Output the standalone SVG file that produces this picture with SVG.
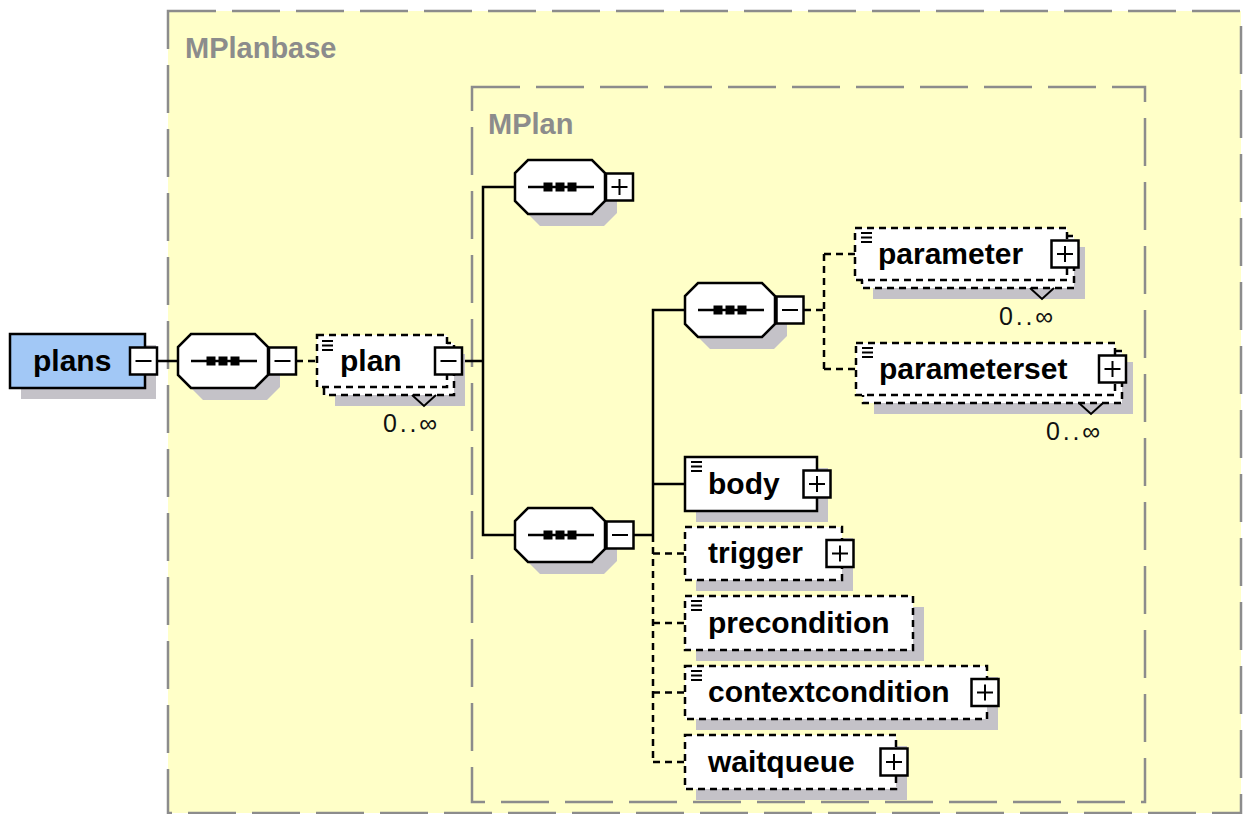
<svg xmlns="http://www.w3.org/2000/svg" xmlns:xlink="http://www.w3.org/1999/xlink" width="1243" height="814" viewBox="0 0 1243 814">
<style>
.conn{stroke:#000;stroke-width:2.5;fill:none}
.dsh{stroke-dasharray:7 5}
.el{fill:#fff;stroke:#000;stroke-width:2.5}
.sh{fill:#C4C2C8}
.lbl{font-family:"Liberation Sans",Arial,sans-serif;font-weight:bold;font-size:30px;fill:#000}
.card{font-family:"Liberation Sans",Arial,sans-serif;font-size:25px;fill:#111}
.grp{font-family:"Liberation Sans",Arial,sans-serif;font-weight:bold;font-size:29px;fill:#8C8C8C}
.frame{fill:#FFFFC8;stroke:#8C8C8C;stroke-width:2.5;stroke-dasharray:48 16}
.frame2{fill:none;stroke:#8C8C8C;stroke-width:2.5;stroke-dasharray:48 16}
.v{fill:none;stroke:#000;stroke-width:2}
</style>
<defs>
<g id="minus"><rect x="-13.5" y="-13.5" width="27" height="27" fill="#fff" stroke="#000" stroke-width="2.5"/><line x1="-8" y1="0" x2="8" y2="0" stroke="#000" stroke-width="2"/></g>
<g id="plus"><rect x="-13.5" y="-13.5" width="27" height="27" fill="#fff" stroke="#000" stroke-width="2.5"/><line x1="-8" y1="0" x2="8" y2="0" stroke="#000" stroke-width="2"/><line x1="0" y1="-8" x2="0" y2="8" stroke="#000" stroke-width="2"/></g>
<g id="seq">
<polygon class="sh" points="-20,-15 20,-15 57,-2 57,26 44,39 -20,39 -33,26 -33,-2"/>
<polygon class="el" points="-32,-27 32,-27 45,-14 45,14 32,27 -32,27 -45,14 -45,-14"/>
<line x1="-32" y1="0" x2="34" y2="0" stroke="#000" stroke-width="2.5"/>
<rect x="-16.5" y="-4.5" width="9" height="9" fill="#000"/>
<rect x="-4.5" y="-4.5" width="9" height="9" fill="#000"/>
<rect x="7.5" y="-4.5" width="9" height="9" fill="#000"/>
</g>
<g id="doc" stroke="#000" stroke-width="2"><line x1="0" y1="0" x2="11" y2="0"/><line x1="0" y1="4.5" x2="11" y2="4.5"/><line x1="0" y1="9" x2="11" y2="9"/></g>
</defs>
<rect x="0" y="0" width="1243" height="814" fill="#fff"/>
<g id="MPlanbase">
<rect class="frame" x="168" y="11" width="1073" height="802"/>
<text class="grp" x="185" y="58">MPlanbase</text>
</g>
<g id="MPlan">
<rect class="frame2" x="472" y="87" width="673" height="715"/>
<text class="grp" x="488" y="134">MPlan</text>
</g>
<g id="connectors">
<line class="conn" x1="157" y1="361" x2="178" y2="361"/>
<line class="conn dsh" x1="296" y1="361" x2="317" y2="361"/>
<line class="conn" x1="462" y1="361" x2="483" y2="361"/>
<polyline class="conn" points="515,187 483,187 483,535 515,535"/>
<line class="conn" x1="633" y1="535" x2="653" y2="535"/>
<polyline class="conn" points="685,310 653,310 653,535"/>
<line class="conn" x1="653" y1="484" x2="685" y2="484"/>
<line class="conn dsh" x1="653" y1="535" x2="653" y2="762"/>
<line class="conn dsh" x1="653" y1="553.5" x2="685" y2="553.5"/>
<line class="conn dsh" x1="653" y1="623" x2="685" y2="623"/>
<line class="conn dsh" x1="653" y1="692.5" x2="685" y2="692.5"/>
<line class="conn dsh" x1="653" y1="762" x2="685" y2="762"/>
<line class="conn dsh" x1="804" y1="310" x2="824" y2="310"/>
<line class="conn dsh" x1="824" y1="254" x2="824" y2="369"/>
<line class="conn dsh" x1="824" y1="254" x2="855" y2="254"/>
<line class="conn dsh" x1="824" y1="369" x2="856" y2="369"/>
</g>
<g id="plans">
<rect class="sh" x="21" y="345" width="135" height="54"/>
<rect x="10" y="334" width="135" height="54" fill="#A2C8F6" stroke="#000" stroke-width="2.5"/>
<text class="lbl" x="33" y="371">plans</text>
<use xlink:href="#minus" x="143.5" y="361"/>
</g>
<g id="seq1"><use xlink:href="#seq" x="223" y="361"/><use xlink:href="#minus" x="282.5" y="361"/></g>
<g id="plan">
<rect class="sh" x="335" y="354" width="130" height="52"/>
<rect class="el dsh" x="324" y="343" width="130" height="52"/>
<rect class="el dsh" x="317" y="335" width="130" height="52"/>
<use xlink:href="#doc" x="322" y="341"/>
<text class="lbl" x="340" y="371">plan</text>
<use xlink:href="#minus" x="448.5" y="361"/>
<polyline class="v" points="412,395 424,406 436,395"/>
<text class="card" x="437" y="432" text-anchor="end" textLength="54" lengthAdjust="spacing">0..∞</text>
</g>
<g id="seq2"><use xlink:href="#seq" x="560" y="187"/><use xlink:href="#plus" x="619.5" y="187"/></g>
<g id="seq3"><use xlink:href="#seq" x="560" y="535"/><use xlink:href="#minus" x="620" y="535"/></g>
<g id="seq4"><use xlink:href="#seq" x="730" y="310"/><use xlink:href="#minus" x="790" y="310"/></g>
<g id="parameter">
<rect class="sh" x="873" y="247" width="212" height="52"/>
<rect class="el dsh" x="862" y="236" width="212" height="52"/>
<rect class="el dsh" x="855" y="228" width="212" height="52"/>
<use xlink:href="#doc" x="861" y="233"/>
<text class="lbl" x="878" y="264">parameter</text>
<use xlink:href="#plus" x="1065" y="254"/>
<polyline class="v" points="1030,288 1042,299 1054,288"/>
<text class="card" x="1053" y="325" text-anchor="end" textLength="54" lengthAdjust="spacing">0..∞</text>
</g>
<g id="parameterset">
<rect class="sh" x="874" y="362" width="259" height="52"/>
<rect class="el dsh" x="863" y="351" width="259" height="52"/>
<rect class="el dsh" x="856" y="343" width="259" height="52"/>
<use xlink:href="#doc" x="862" y="348"/>
<text class="lbl" x="879" y="379">parameterset</text>
<use xlink:href="#plus" x="1112.5" y="369"/>
<polyline class="v" points="1079,403 1091,414 1103,403"/>
<text class="card" x="1100" y="440" text-anchor="end" textLength="54" lengthAdjust="spacing">0..∞</text>
</g>
<g id="body">
<rect class="sh" x="696" y="468" width="132" height="54"/>
<rect class="el" x="685" y="457" width="132" height="54"/>
<use xlink:href="#doc" x="691" y="462"/>
<text class="lbl" x="708" y="494">body</text>
<use xlink:href="#plus" x="817" y="484"/>
</g>
<g id="trigger">
<rect class="sh" x="696" y="538" width="157" height="53"/>
<rect class="el dsh" x="685" y="527" width="157" height="53"/>
<text class="lbl" x="708" y="563">trigger</text>
<use xlink:href="#plus" x="840" y="553.5"/>
</g>
<g id="precondition">
<rect class="sh" x="696" y="607" width="228" height="54"/>
<rect class="el dsh" x="685" y="596" width="228" height="54"/>
<use xlink:href="#doc" x="691" y="601"/>
<text class="lbl" x="708" y="633">precondition</text>
</g>
<g id="contextcondition">
<rect class="sh" x="696" y="677" width="302" height="53"/>
<rect class="el dsh" x="685" y="666" width="302" height="53"/>
<use xlink:href="#doc" x="691" y="671"/>
<text class="lbl" x="708" y="702">contextcondition</text>
<use xlink:href="#plus" x="985" y="692.5"/>
</g>
<g id="waitqueue">
<rect class="sh" x="696" y="746" width="211" height="54"/>
<rect class="el dsh" x="685" y="735" width="211" height="54"/>
<text class="lbl" x="708" y="772">waitqueue</text>
<use xlink:href="#plus" x="894" y="762"/>
</g>
</svg>
